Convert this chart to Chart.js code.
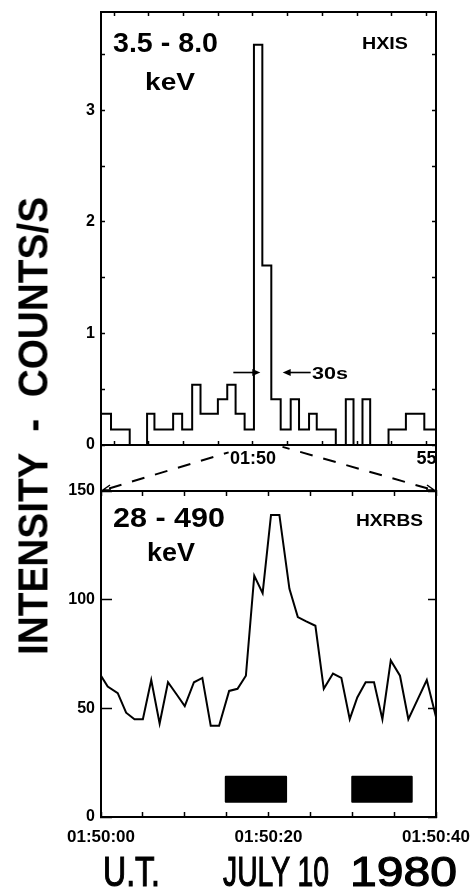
<!DOCTYPE html>
<html>
<head>
<meta charset="utf-8">
<script src="https://cdn.jsdelivr.net/npm/chart.js@4.4.1/dist/chart.umd.min.js"></script>
<style>
body { margin: 0; background: #fff; width: 476px; height: 895px; overflow: hidden; position: relative; font-family: "Liberation Sans", Arial, sans-serif; color: #000; }
canvas { position: absolute; left: 0; }
#hxis { top: 0; }
#hxrbs { top: 440px; }
.lbl { position: absolute; white-space: pre; line-height: 1; transform-origin: 0 0; }
</style>
</head>
<body>
<canvas id="hxis" width="476" height="470"></canvas>
<canvas id="hxrbs" width="476" height="455"></canvas>
<script>
// HXIS 3.5-8.0 keV, bin start times in seconds from 01:50:00
var hxisBinStart = [-262.5, -245.2, -229.0, -212.9, -197.3, -182.9, -170.2, -154.0, -137.9, -122.3,
                    -105.0, -90.6, -76.2, -60.6, -44.4, -30.0, -14.4, 1.7, 16.2, 31.7,
                    47.9, 65.2, 79.6, 96.9, 110.2, 127.5, 143.1, 160.4, 173.7, 189.2,
                    202.5, 219.8, 234.2, 248.7, 264.2, 280.4, 296.0, 311.5];
var hxisBinEnd = 316.2;
var hxisCounts = [0.41, 0.28, 0.14, 0.14, 0, 0, 0.28, 0.14, 0.14, 0.28,
                  0.14, 0.54, 0.28, 0.28, 0.41, 0.54, 0.28, 0.14, 3.59, 1.61,
                  0.41, 0.14, 0.41, 0.14, 0.28, 0.14, 0.14, 0, 0.41, 0,
                  0.41, 0, 0, 0.14, 0.14, 0.28, 0.28, 0.14];
var hxisTicks = [-240, -180, -120, -60, 0, 60, 120, 180, 240, 300];
var hxisTickLabels = { 0: '01:50', 300: '55' };
var hxisYTicks = [0, 0.5, 1, 1.5, 2, 2.5, 3, 3.5];
var hxisYLabels = { 0: '0', 1: '1', 2: '2', 3: '3' };
var arrowLevel = 0.65;

// HXRBS 28-490 keV, seconds from 01:50:00
var hxrbsTime = [0, 0.8, 2.0, 3.0, 4.0, 5.0, 6.0, 7.0, 8.0, 9.1,
                 10.0, 11.1, 12.1, 13.1, 14.1, 15.3, 16.3, 17.3, 18.3, 19.3,
                 20.3, 21.3, 22.5, 23.5, 24.5, 25.6, 26.6, 27.7, 28.7, 29.7,
                 30.6, 31.6, 32.6, 33.6, 34.6, 35.7, 36.7, 37.8, 38.9, 40.0];
var hxrbsCounts = [65, 60, 57, 48, 45, 45, 63, 43, 62, 56,
                   51, 62, 64, 42, 42, 58, 59, 65, 111, 103,
                   139, 139, 105, 92, 90, 88, 59, 66, 64, 45,
                   55, 62, 62, 45, 72, 65, 45, 54, 63, 46];
var hxrbsTicks = [0, 5, 10, 15, 20, 25, 30, 35, 40];
var hxrbsTickLabels = { 0: '01:50:00', 20: '01:50:20', 40: '01:50:40' };
var hxrbsYTicks = [0, 50, 100, 150];
var blockStart = [14.9, 30.0];
var blockEnd = [22.1, 37.1];
var blockLow = 7.0;
var blockHigh = 18.5;

Chart.defaults.font.family = '"Liberation Sans", Arial, sans-serif';
Chart.defaults.color = '#000';

function setTicks(list) {
    return function(scale) { scale.ticks = list.map(function(v) { return { value: v }; }); };
}
function fixSize(prop, size) {
    return function(scale) {
        scale[prop] = size;
        scale.paddingLeft = 0; scale.paddingRight = 0;
        scale.paddingTop = 0; scale.paddingBottom = 0;
    };
}
function arrow(c, x0, y0, x1, y1) {
    var dir = x1 > x0 ? 1 : -1;
    c.beginPath(); c.moveTo(x0, y0); c.lineTo(x1 - dir * 5, y1); c.stroke();
    c.beginPath(); c.moveTo(x1, y1); c.lineTo(x1 - dir * 8, y1 - 3.5); c.lineTo(x1 - dir * 8, y1 + 3.5); c.closePath(); c.fill();
}

var frame = { display: true, color: '#000', width: 2 };

// ---------- top panel: HXIS ----------
var hxisPoints = hxisBinStart.map(function(t, i) { return { x: t, y: hxisCounts[i] }; });
hxisPoints.push({ x: hxisBinEnd, y: hxisCounts[hxisCounts.length - 1] });

var thirtySec = {
    id: 'thirtySec',
    afterDatasetsDraw: function(chart) {
        var c = chart.ctx, sx = chart.scales.x, sy = chart.scales.y;
        var peak = hxisCounts.indexOf(Math.max.apply(null, hxisCounts));
        var yy = sy.getPixelForValue(arrowLevel);
        var xa = sx.getPixelForValue(hxisBinStart[peak]) - 2;
        var xb = sx.getPixelForValue(hxisBinStart[peak + 2]) + 2;
        c.save();
        c.strokeStyle = '#000'; c.fillStyle = '#000'; c.lineWidth = 1.6;
        arrow(c, xa - 27, yy, xa, yy);
        arrow(c, xb + 28, yy, xb, yy);
        c.restore();
    }
};

var topChart = new Chart(document.getElementById('hxis'), {
    type: 'line',
    data: {
        datasets: [{
            data: hxisPoints,
            stepped: 'after',
            borderColor: '#000',
            borderWidth: 2,
            pointRadius: 0,
            fill: false
        }]
    },
    options: {
        responsive: false,
        animation: false,
        layout: { padding: 0 },
        plugins: { legend: { display: false }, tooltip: { enabled: false } },
        scales: {
            x: {
                type: 'linear', position: 'bottom', min: hxisBinStart[0], max: hxisBinEnd,
                afterBuildTicks: setTicks(hxisTicks), afterFit: fixSize('height', 25),
                border: frame,
                grid: { drawOnChartArea: false, tickLength: -4, tickColor: '#000', tickWidth: 1.5 },
                ticks: { autoSkip: false, maxRotation: 0, padding: 7, font: { size: 18, weight: 'bold' },
                         callback: function(v) { return hxisTickLabels[v] || ''; } }
            },
            xTop: {
                type: 'linear', position: 'top', min: hxisBinStart[0], max: hxisBinEnd,
                afterBuildTicks: setTicks(hxisTicks), afterFit: fixSize('height', 12),
                border: frame,
                grid: { drawOnChartArea: false, tickLength: -4, tickColor: '#000', tickWidth: 1.5 },
                ticks: { display: false }
            },
            y: {
                type: 'linear', position: 'left', min: 0, max: 3.883,
                afterBuildTicks: setTicks(hxisYTicks), afterFit: fixSize('width', 101),
                border: frame,
                grid: { drawOnChartArea: false, tickLength: -4, tickColor: '#000', tickWidth: 1.5 },
                ticks: { padding: 10, font: { size: 16, weight: 'bold' },
                         callback: function(v) { return hxisYLabels[v] || ''; } }
            },
            yRight: {
                type: 'linear', position: 'right', min: 0, max: 3.883,
                afterBuildTicks: setTicks(hxisYTicks), afterFit: fixSize('width', 40),
                border: frame,
                grid: { drawOnChartArea: false, tickLength: -4, tickColor: '#000', tickWidth: 1.5 },
                ticks: { display: false }
            }
        }
    },
    plugins: [thirtySec]
});

// ---------- bottom panel: HXRBS ----------
var hxrbsPoints = hxrbsTime.map(function(t, i) { return { x: t, y: hxrbsCounts[i] }; });

var datasets = [{
    data: hxrbsPoints,
    borderColor: '#000',
    borderWidth: 2,
    pointRadius: 0,
    tension: 0,
    fill: false
}];
blockStart.forEach(function(s, i) {
    datasets.push({
        data: [{ x: s, y: blockLow }, { x: blockEnd[i], y: blockLow }, { x: blockEnd[i], y: blockHigh },
               { x: s, y: blockHigh }, { x: s, y: blockLow }],
        borderColor: '#000',
        backgroundColor: '#000',
        borderWidth: 2,
        borderJoinStyle: 'round',
        pointRadius: 0,
        fill: 'shape'
    });
});

var CANVAS_TOP = 440;
var zoomLines = {
    id: 'zoomLines',
    afterDraw: function(chart) {
        var c = chart.ctx, a = chart.chartArea, sx = chart.scales.x;
        var ts = topChart.scales.x;
        var yTop = topChart.chartArea.bottom - CANVAS_TOP;
        var xl = ts.getPixelForValue(sx.min), xr = ts.getPixelForValue(sx.max);
        c.save();
        c.strokeStyle = '#000'; c.fillStyle = '#000';
        // side frame between the panels
        c.lineWidth = 2;
        c.beginPath();
        c.moveTo(a.left, yTop); c.lineTo(a.left, a.top);
        c.moveTo(a.right, yTop); c.lineTo(a.right, a.top);
        c.stroke();
        // dashed zoom lines
        c.setLineDash([13, 11]);
        c.beginPath();
        c.moveTo(a.left + 8, a.top - 2.5);
        c.lineTo(a.left + (xl - a.left) * 0.84, a.top + (yTop - a.top) * 0.84);
        c.moveTo(a.right - 8, a.top - 2.5);
        c.lineTo(a.right + (xr - a.right) * 0.96, a.top + (yTop - a.top) * 0.96);
        c.stroke();
        c.setLineDash([]);
        c.lineWidth = 1.5;
        c.beginPath();
        c.moveTo(a.left + 9, a.top - 6); c.lineTo(a.left + 2, a.top - 1); c.lineTo(a.left + 10, a.top - 1);
        c.moveTo(a.right - 9, a.top - 6); c.lineTo(a.right - 2, a.top - 1); c.lineTo(a.right - 10, a.top - 1);
        c.stroke();
        c.restore();
    }
};

var bottomChart = new Chart(document.getElementById('hxrbs'), {
    type: 'line',
    data: { datasets: datasets },
    options: {
        responsive: false,
        animation: false,
        layout: { padding: 0 },
        plugins: { legend: { display: false }, tooltip: { enabled: false } },
        scales: {
            x: {
                type: 'linear', position: 'bottom', min: 0, max: 40,
                afterBuildTicks: setTicks(hxrbsTicks), afterFit: fixSize('height', 78),
                border: frame,
                grid: { drawOnChartArea: false, tickLength: -5, tickColor: '#000', tickWidth: 1.5 },
                ticks: { autoSkip: false, maxRotation: 0, padding: 15, font: { size: 17, weight: 'bold' },
                         callback: function(v) { return hxrbsTickLabels[v] || ''; } }
            },
            xTop: {
                type: 'linear', position: 'top', min: 0, max: 40,
                afterBuildTicks: setTicks(hxrbsTicks), afterFit: fixSize('height', 51),
                border: frame,
                grid: { drawOnChartArea: false, tickLength: -5, tickColor: '#000', tickWidth: 1.5 },
                ticks: { display: false }
            },
            y: {
                type: 'linear', position: 'left', min: 0, max: 150,
                afterBuildTicks: setTicks(hxrbsYTicks), afterFit: fixSize('width', 101),
                border: frame,
                grid: { drawOnChartArea: false, tickLength: -11, tickColor: '#000', tickWidth: 1.5 },
                ticks: { padding: 17, font: { size: 16, weight: 'bold' } }
            },
            yRight: {
                type: 'linear', position: 'right', min: 0, max: 150,
                afterBuildTicks: setTicks(hxrbsYTicks), afterFit: fixSize('width', 40),
                border: frame,
                grid: { drawOnChartArea: false, tickLength: -8, tickColor: '#000', tickWidth: 1.5 },
                ticks: { display: false }
            }
        }
    },
    plugins: [zoomLines]
});

// ---------- text ----------
function place(text, left, capTop, width, capH, weight, stroke) {
    var size = capH / 0.716;
    var d = document.createElement('div');
    d.className = 'lbl';
    d.textContent = text;
    d.style.fontSize = size + 'px';
    d.style.fontWeight = weight;
    if (stroke) d.style.webkitTextStroke = stroke + 'px #000';
    d.style.left = left + 'px';
    d.style.top = (capTop - 0.13 * size) + 'px';
    document.body.appendChild(d);
    var w = d.getBoundingClientRect().width;
    d.style.transform = 'scaleX(' + (width / w) + ')';
}
place('3.5 - 8.0', 113, 33, 105, 20, 'bold');
place('keV', 145, 74, 50, 16.5, 'bold');
place('HXIS', 362, 37, 46, 11.5, 'bold');
place('28 - 490', 113, 508, 112, 20, 'bold');
place('keV', 147, 542, 48, 19, 'bold');
place('HXRBS', 356, 515, 67, 12, 'bold');
place('30s', 312, 368, 36, 12, 'bold');
place('U.T.', 103, 856, 57, 31, 'normal', 1.2);
place('JULY 10', 223, 856, 106, 31, 'normal', 1.2);
place('1980', 350, 856, 107, 31, 'normal', 1.2);

(function() {
    var capH = 30, size = capH / 0.716, len = 458, cx = 33, cy = 426;
    var d = document.createElement('div');
    d.className = 'lbl';
    d.textContent = 'INTENSITY  -  COUNTS/S';
    d.style.fontSize = size + 'px';
    d.style.fontWeight = 'bold';
    document.body.appendChild(d);
    var w = d.getBoundingClientRect().width;
    d.style.transformOrigin = '50% 50%';
    d.style.left = (cx - w / 2) + 'px';
    d.style.top = (cy - size / 2) + 'px';
    d.style.transform = 'rotate(-90deg) scaleX(' + (len / w) + ')';
})();
</script>
</body>
</html>
